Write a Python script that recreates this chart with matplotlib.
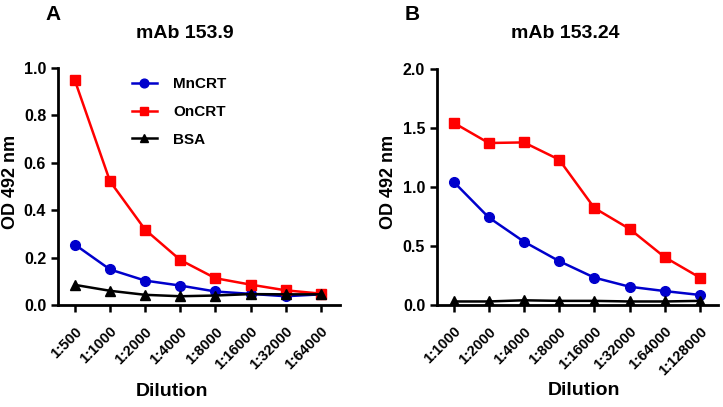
import matplotlib
matplotlib.use("Agg")
import matplotlib.pyplot as plt

plt.rcParams['font.family'] = ['Liberation Sans', 'DejaVu Sans']
plt.rcParams['font.weight'] = 'bold'

# panel A: mAb 153.9
dil_a = ['1:500', '1:1000', '1:2000', '1:4000', '1:8000', '1:16000', '1:32000', '1:64000']
mn_a = [0.255, 0.150, 0.103, 0.082, 0.057, 0.047, 0.037, 0.045]
on_a = [0.948, 0.522, 0.318, 0.190, 0.113, 0.086, 0.062, 0.048]
bsa_a = [0.085, 0.060, 0.043, 0.037, 0.040, 0.046, 0.045, 0.045]

# panel B: mAb 153.24
dil_b = ['1:1000', '1:2000', '1:4000', '1:8000', '1:16000', '1:32000', '1:64000', '1:128000']
mn_b = [1.045, 0.742, 0.537, 0.372, 0.232, 0.155, 0.118, 0.085]
on_b = [1.545, 1.373, 1.378, 1.232, 0.822, 0.645, 0.405, 0.232]
bsa_b = [0.030, 0.030, 0.040, 0.035, 0.035, 0.030, 0.030, 0.035]

fig = plt.figure(figsize=(7.23, 4.07), dpi=100)
axA = fig.add_axes([0.0802, 0.2506, 0.3898, 0.5823])
axB = fig.add_axes([0.6044, 0.2506, 0.3886, 0.5798])


def draw(ax, labels, mn, on, bsa, ymax, yticks, xlim):
    x = range(len(labels))
    ax.plot(x, mn, color='#0000CC', marker='o', ms=7, lw=1.8, label='MnCRT')
    ax.plot(x, on, color='#FF0000', marker='s', ms=7, lw=1.8, label='OnCRT')
    ax.plot(x, bsa, color='black', marker='^', ms=7, lw=1.8, label='BSA')
    ax.set_xlim(*xlim)
    ax.set_ylim(0, ymax)
    ax.set_yticks(yticks)
    ax.set_yticklabels(['%.1f' % v for v in yticks], fontsize=11.5, fontweight='bold')
    ax.set_xticks(list(x))
    ax.set_xticklabels(labels, rotation=45, ha='right', rotation_mode='anchor',
                       fontsize=10.5, fontweight='bold')
    for s in ['top', 'right']:
        ax.spines[s].set_visible(False)
    for s in ['left', 'bottom']:
        ax.spines[s].set_linewidth(2)
    ax.tick_params(width=1.8, length=5)
    ax.tick_params(axis='x', pad=9)
    ax.set_ylabel('OD 492 nm', fontsize=13, fontweight='bold')
    ax.set_xlabel('Dilution', fontsize=14, fontweight='bold')
    ax.xaxis.label.set_va('center')
    ax.yaxis.label.set_va('center')


draw(axA, dil_a, mn_a, on_a, bsa_a, 1.0, [0.0, 0.2, 0.4, 0.6, 0.8, 1.0], (-0.48, 7.54))
draw(axB, dil_b, mn_b, on_b, bsa_b, 2.0, [0.0, 0.5, 1.0, 1.5, 2.0], (-0.47, 7.51))

axA.yaxis.set_label_coords(-0.167, 0.52)
axB.yaxis.set_label_coords(-0.171, 0.52)
axA.xaxis.set_label_coords(0.404, -0.365)
axB.xaxis.set_label_coords(0.523, -0.362)

fig.text(185 / 723, 1 - 33 / 407, 'mAb 153.9', fontsize=14, fontweight='bold',
         ha='center', va='center')
fig.text(565 / 723, 1 - 33 / 407, 'mAb 153.24', fontsize=14, fontweight='bold',
         ha='center', va='center')

axA.legend(loc='upper left', bbox_to_anchor=(0.262, 0.961), frameon=False,
           prop={'weight': 'bold', 'size': 11}, handlelength=1.64,
           handletextpad=1.05, labelspacing=0.9, borderpad=0, borderaxespad=0,
           markerscale=0.9)

fig.text(53 / 723, 1 - 14 / 407, 'A', fontsize=15, fontweight='bold', ha='center', va='center')
fig.text(412 / 723, 1 - 14 / 407, 'B', fontsize=15, fontweight='bold', ha='center', va='center')

fig.savefig('out.png', dpi=100)
